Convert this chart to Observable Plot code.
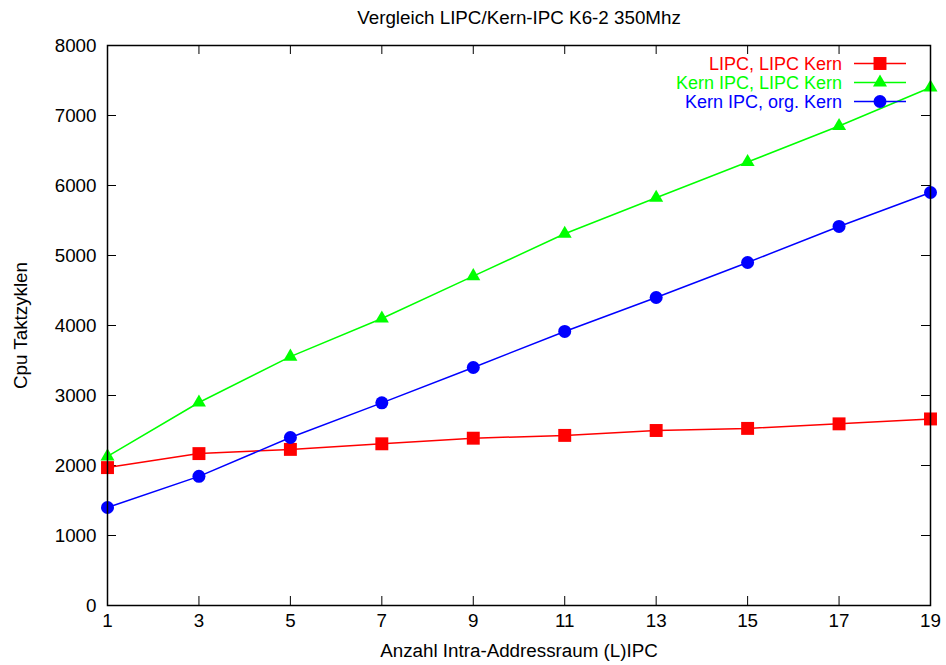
<!DOCTYPE html>
<html>
<head>
<meta charset="utf-8">
<script src="https://cdn.jsdelivr.net/npm/d3@7"></script>
<script src="https://cdn.jsdelivr.net/npm/@observablehq/plot@0.6"></script>
<style>
  html, body { margin: 0; padding: 0; background: #fff; }
</style>
</head>
<body>
<div id="chart"></div>
<script>
const xValues = [1, 3, 5, 7, 9, 11, 13, 15, 17, 19];
const lipcLipcKern = [1970, 2170, 2230, 2310, 2390, 2430, 2500, 2530, 2595, 2665];
const kernIpcLipcKern = [2130, 2900, 3555, 4100, 4705, 5310, 5825, 6335, 6850, 7400];
const kernIpcOrgKern = [1400, 1845, 2400, 2895, 3400, 3915, 4400, 4900, 5415, 5900];
const seriesNames = ["LIPC, LIPC Kern", "Kern IPC, LIPC Kern", "Kern IPC, org. Kern"];
const seriesColors = ["#ff0000", "#00ff00", "#0000ff"];
const seriesSymbols = ["square", "triangle", "circle"];
const seriesRadius = [7.3, 5.2, 6.5];
const xTicks = [1, 3, 5, 7, 9, 11, 13, 15, 17, 19];
const yTicks = [0, 1000, 2000, 3000, 4000, 5000, 6000, 7000, 8000];
const titleText = "Vergleich LIPC/Kern-IPC K6-2 350Mhz";
const xLabel = "Anzahl Intra-Addressraum (L)IPC";
const yLabel = "Cpu Taktzyklen";

const seriesValues = [lipcLipcKern, kernIpcLipcKern, kernIpcOrgKern];
const data = seriesValues.flatMap((vals, s) =>
  vals.map((v, i) => ({ series: seriesNames[s], x: xValues[i], y: v }))
);

const FONT = 18.8;
const LEGEND_FONT = 18;
const symbolMap = { square: d3.symbolSquare, triangle: d3.symbolTriangle, circle: d3.symbolCircle };

function legendMark(index, scales, values, dimensions) {
  const right = dimensions.width - dimensions.marginRight;
  const top = dimensions.marginTop;
  const g = d3.create("svg:g");
  seriesNames.forEach((name, i) => {
    const cy = top + 18.5 + i * 19;
    g.append("text")
      .attr("x", right - 88).attr("y", cy)
      .attr("dy", "0.35em")
      .attr("text-anchor", "end")
      .attr("fill", seriesColors[i])
      .attr("font-size", LEGEND_FONT)
      .text(name);
    g.append("line")
      .attr("x1", right - 76).attr("x2", right - 24)
      .attr("y1", cy).attr("y2", cy)
      .attr("stroke", seriesColors[i]).attr("stroke-width", 1.5);
    const r = seriesRadius[i];
    g.append("path")
      .attr("transform", `translate(${right - 50},${cy})`)
      .attr("d", d3.symbol(symbolMap[seriesSymbols[i]], r * r * Math.PI)())
      .attr("fill", seriesColors[i]);
  });
  return g.node();
}

const innerH = 665 - 45 - 60;
const innerW = 946 - 107 - 16;
const tickLen = 9;

const chart = Plot.plot({
  width: 946,
  height: 665,
  marginLeft: 107,
  marginRight: 16,
  marginTop: 45,
  marginBottom: 60,
  style: { fontFamily: "'Liberation Sans', Arial, Helvetica, sans-serif", fontSize: FONT + "px", color: "#000", background: "#fff" },
  x: { domain: [1, 19] },
  y: { domain: [0, 8000] },
  color: { domain: seriesNames, range: seriesColors },
  marks: [
    Plot.tickX(xTicks, { x: d => d, insetTop: innerH - tickLen, stroke: "#000", strokeWidth: 1 }),
    Plot.tickX(xTicks, { x: d => d, insetBottom: innerH - tickLen, stroke: "#000", strokeWidth: 1 }),
    Plot.tickY(yTicks, { y: d => d, insetRight: innerW - tickLen, stroke: "#000", strokeWidth: 1 }),
    Plot.tickY(yTicks, { y: d => d, insetLeft: innerW - tickLen, stroke: "#000", strokeWidth: 1 }),
    Plot.axisX(xTicks, { tickSize: 0, tickPadding: 8, fontSize: FONT, label: null }),
    Plot.axisY(yTicks, { tickSize: 0, tickPadding: 11, fontSize: FONT, label: null, tickFormat: d => String(d) }),
    Plot.line(data, { x: "x", y: "y", z: "series", stroke: "series", strokeWidth: 1.5 }),
    ...seriesNames.map((name, s) =>
      Plot.dot(data.filter(d => d.series === name), {
        x: "x", y: "y", symbol: () => seriesSymbols[s], fill: seriesColors[s], r: seriesRadius[s]
      })
    ),
    Plot.frame({ stroke: "#000", strokeWidth: 1.5 }),
    Plot.text([titleText], { frameAnchor: "top", dy: -28, lineAnchor: "middle", textAnchor: "middle", fontSize: FONT, fill: "#000" }),
    Plot.text([xLabel], { frameAnchor: "bottom", dy: 45, lineAnchor: "middle", textAnchor: "middle", fontSize: FONT, fill: "#000" }),
    Plot.text([yLabel], { frameAnchor: "left", dx: -87, rotate: -90, lineAnchor: "middle", textAnchor: "middle", fontSize: FONT, fill: "#000" }),
    legendMark
  ]
});

document.getElementById("chart").appendChild(chart);
</script>
</body>
</html>
